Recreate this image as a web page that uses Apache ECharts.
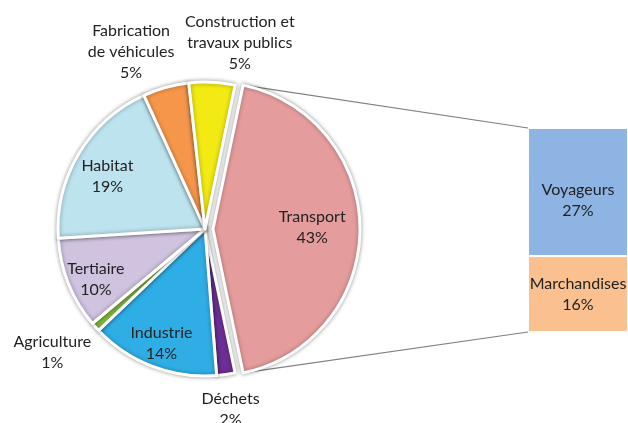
<!DOCTYPE html>
<html>
<head>
<meta charset="utf-8">
<script src="https://cdn.jsdelivr.net/npm/echarts@6/dist/echarts.min.js"></script>
<style>
html,body{margin:0;padding:0;background:#fff;}
#chart{width:628px;height:423px;}
</style>
</head>
<body>
<div id="chart"></div>
<script>
// ---- data ----
const sectors = ['Transport', 'Déchets', 'Industrie', 'Agriculture', 'Tertiaire', 'Habitat', 'Fabrication\nde véhicules', 'Construction et\ntravaux publics'];
const sectorValues = [43, 2, 14, 1, 10, 19, 5, 5];
const transportParts = ['Marchandises', 'Voyageurs'];
const transportValues = [16, 27];

// ---- styles ----
const sectorColors = ['#E59C9C', '#6E2E96', '#2FAEE6', '#86C440', '#CFC3E0', '#BDE3EE', '#F5964A', '#F2EA12'];
const partColors = ['#FAC090', '#8DB4E2'];
const labelRadius = [0.675, 1.22, 0.83, 1.33, 0.8, 0.75, 1.3, 1.27];
const labelShift = [[0, -2], [0, 3], [0, 0], [-7, -7], [0, 7], [-3, 4], [-23, 7], [26, 0]];
const FONT = 'Lato';
const TEXT = '#222';
const cx = 205, cy = 229, R = 147, explode = 8;

const total = sectorValues.reduce((a, b) => a + b, 0);
const half = 360 * sectorValues[0] / total / 2;
const startAngle = half;
function midAngle(i) {
  let cum = 0;
  for (let k = 0; k < i; k++) cum += sectorValues[k];
  return startAngle - 360 * (cum + sectorValues[i] / 2) / total;
}
function placeLabel(i, ox) {
  const a = midAngle(i) * Math.PI / 180;
  const r = labelRadius[i] * R;
  return {
    x: cx + ox + r * Math.cos(a) + labelShift[i][0],
    y: cy - r * Math.sin(a) + labelShift[i][1],
    align: 'center',
    verticalAlign: 'middle'
  };
}

const sliceStyle = {
  borderColor: '#fff',
  borderWidth: 3,
  shadowBlur: 4,
  shadowColor: 'rgba(0,0,0,0.35)'
};
const hidden = {color: 'rgba(0,0,0,0)', borderWidth: 0, shadowBlur: 0, shadowColor: 'rgba(0,0,0,0)'};
const labelStyle = {
  show: true,
  position: 'inside',
  formatter: p => p.name + '\n' + p.value + '%',
  fontFamily: FONT,
  fontSize: 16,
  lineHeight: 21,
  color: TEXT
};

// main pie: every sector except Transport (kept as an empty gap)
const mainData = sectors.map((name, i) => i === 0
  ? {name: name, value: sectorValues[i], itemStyle: hidden, label: {show: false}}
  : {name: name, value: sectorValues[i], itemStyle: {color: sectorColors[i]}});
// exploded pie: Transport only, the rest left empty
const restValue = total - sectorValues[0];
const explodedData = [
  {name: sectors[0], value: sectorValues[0], itemStyle: {color: sectorColors[0]}},
  {name: 'rest', value: restValue, itemStyle: hidden, label: {show: false}}
];

const chart = echarts.init(document.getElementById('chart'), null, {renderer: 'canvas'});
const option = {
  animation: false,
  backgroundColor: '#fff',
  grid: {left: 528, right: 0, top: 128, bottom: 91},
  xAxis: {type: 'category', data: ['Transport'], show: false},
  yAxis: {type: 'value', min: 0, max: transportValues.reduce((a, b) => a + b, 0), show: false},
  series: [
    {
      type: 'pie',
      center: [cx, cy],
      radius: [0, R],
      startAngle: startAngle,
      clockwise: true,
      avoidLabelOverlap: false,
      silent: true,
      data: mainData,
      itemStyle: sliceStyle,
      label: labelStyle,
      labelLine: {show: false},
      labelLayout: p => placeLabel(p.dataIndex, 0)
    },
    {
      type: 'pie',
      center: [cx + explode, cy],
      radius: [0, R],
      startAngle: startAngle,
      clockwise: true,
      avoidLabelOverlap: false,
      silent: true,
      data: explodedData,
      itemStyle: sliceStyle,
      label: labelStyle,
      labelLine: {show: false},
      labelLayout: p => placeLabel(0, explode)
    },
    ...transportParts.map((name, i) => ({
      type: 'bar',
      name: name,
      stack: 'transport',
      barWidth: '100%',
      silent: true,
      data: [transportValues[i]],
      itemStyle: {color: partColors[i], borderColor: '#fff', borderWidth: 1},
      label: {
        show: true,
        position: 'inside',
        formatter: p => p.seriesName + '\n' + p.value + '%',
        fontFamily: FONT,
        fontSize: 16,
        lineHeight: 21,
        color: TEXT,
        offset: i === 1 ? [0, 8] : [0, 0]
      }
    }))
  ]
};
chart.setOption(option);

// connector lines from transport slice edges to the stacked bar corners
const gridRect = chart.getModel().getComponent('grid', 0).coordinateSystem.getRect();
const tcx = cx + explode, a0 = half * Math.PI / 180;
const topPt = [tcx + R * Math.cos(a0), cy - R * Math.sin(a0)];
const botPt = [tcx + R * Math.cos(-a0), cy - R * Math.sin(-a0)];
const barTop = chart.convertToPixel({gridIndex: 0}, [0, transportValues.reduce((a, b) => a + b, 0)]);
const barBot = chart.convertToPixel({gridIndex: 0}, [0, 0]);
chart.setOption({
  graphic: [
    {type: 'line', z: 0, shape: {x1: topPt[0], y1: topPt[1], x2: gridRect.x, y2: barTop[1]}, style: {stroke: '#808080', lineWidth: 1.2}},
    {type: 'line', z: 0, shape: {x1: botPt[0], y1: botPt[1], x2: gridRect.x, y2: barBot[1]}, style: {stroke: '#808080', lineWidth: 1.2}}
  ]
});
</script>
</body>
</html>
